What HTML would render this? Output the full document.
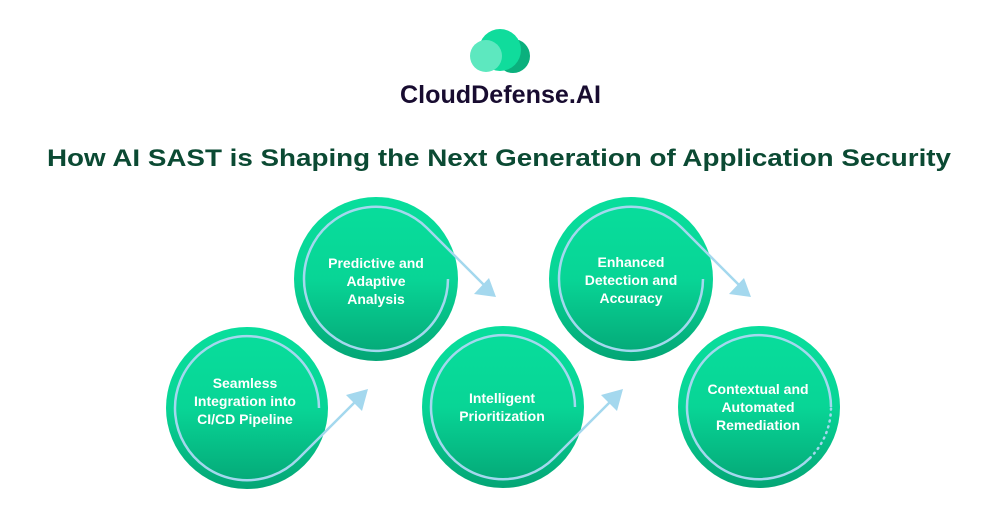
<!DOCTYPE html>
<html><head><meta charset="utf-8"><style>
html,body{margin:0;padding:0;background:#fff;}
svg{display:block;}
text{font-family:"Liberation Sans",sans-serif;font-weight:bold;}
</style></head><body>
<svg width="1000" height="515" viewBox="0 0 1000 515" xmlns="http://www.w3.org/2000/svg">
<defs>
<linearGradient id="g" x1="0" y1="0" x2="0" y2="1">
<stop offset="0" stop-color="#08de9c"/><stop offset="0.5" stop-color="#08d596"/><stop offset="1" stop-color="#04a575"/>
</linearGradient>
</defs>
<rect width="1000" height="515" fill="#fff"/>
<circle cx="513" cy="56" r="17" fill="#0bb07d"/>
<circle cx="500" cy="50" r="21" fill="#10dc9c"/>
<circle cx="486" cy="56" r="16" fill="#5de8bf"/>
<text x="400" y="103" font-size="25" fill="#180c30" textLength="201" lengthAdjust="spacingAndGlyphs">CloudDefense.AI</text>
<text x="47" y="166" font-size="24" fill="#0b4a33" textLength="904" lengthAdjust="spacingAndGlyphs">How AI SAST is Shaping the Next Generation of Application Security</text>

<g fill="url(#g)">
<circle cx="247" cy="408" r="81"/>
<circle cx="376" cy="279" r="82"/>
<circle cx="503" cy="407" r="81"/>
<circle cx="631" cy="279" r="82"/>
<circle cx="759" cy="407" r="81"/>
</g>
<g fill="none" stroke="#a4d8ee" stroke-width="2.5">
<path d="M319 408 A72 72 0 1 0 298 459 L358 399"/>
<path d="M448 279 A72 72 0 1 1 427 228 L486 287"/>
<path d="M575 407 A72 72 0 1 0 554 458 L613 399"/>
<path d="M703 279 A72 72 0 1 1 682 228 L741 287"/>
<path d="M831 407 A72 72 0 1 0 810 458"/>
<path d="M810 458 A72 72 0 0 0 831 407" stroke-dasharray="1 5" stroke-linecap="round"/>
</g>
<g fill="#a4d8ee">
<polygon points="368,389 362,411 346,395"/>
<polygon points="496,297 474,294 489,278"/>
<polygon points="623,389 617,411 601,395"/>
<polygon points="751,297 729,294 744,278"/>
</g>
<g fill="#fff" font-size="14" text-anchor="middle">
<text x="245" y="388">Seamless</text>
<text x="245" y="406">Integration into</text>
<text x="245" y="424">CI/CD Pipeline</text>
<text x="376" y="268">Predictive and</text>
<text x="376" y="286">Adaptive</text>
<text x="376" y="304">Analysis</text>
<text x="502" y="403">Intelligent</text>
<text x="502" y="421">Prioritization</text>
<text x="631" y="267">Enhanced</text>
<text x="631" y="285">Detection and</text>
<text x="631" y="303">Accuracy</text>
<text x="758" y="394">Contextual and</text>
<text x="758" y="412">Automated</text>
<text x="758" y="430">Remediation</text>
</g>
</svg>
</body></html>
